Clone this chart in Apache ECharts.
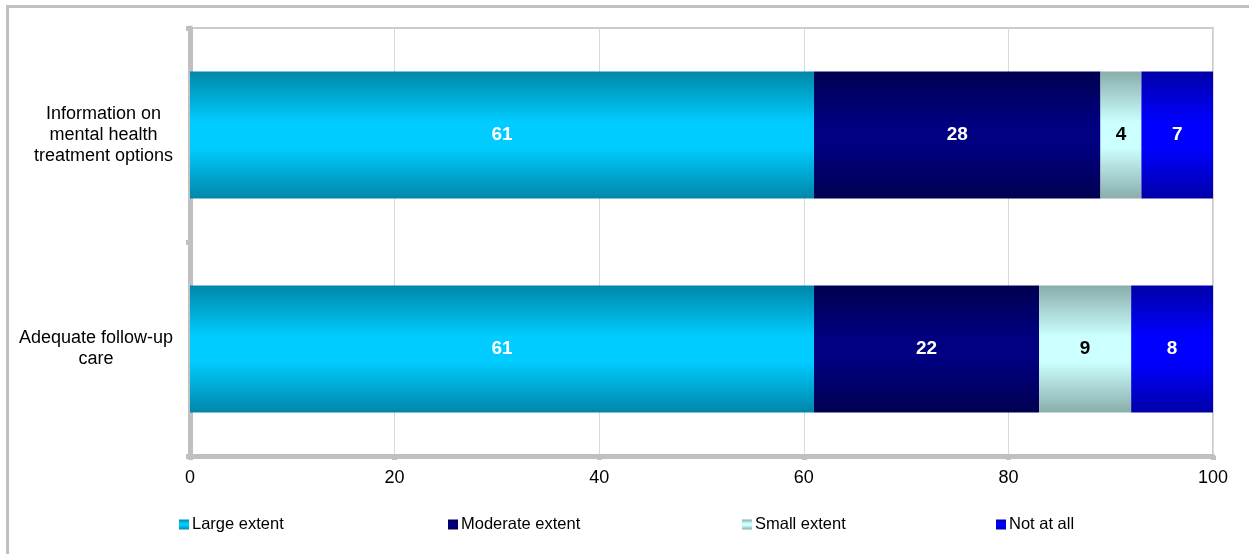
<!DOCTYPE html>
<html>
<head>
<meta charset="utf-8">
<script src="https://cdn.jsdelivr.net/npm/echarts@6/dist/echarts.min.js"></script>
<style>
    html, body { margin: 0; padding: 0; background: #fff; }
    #chart { width: 1249px; height: 554px; }
</style>
</head>
<body>
<div id="chart"></div>
<script>
// categories, top to bottom
var categories = ['Information on\nmental health\ntreatment options', 'Adequate follow-up\ncare'];
var seriesNames = ['Large extent', 'Moderate extent', 'Small extent', 'Not at all'];
var largeExtent = [61, 61];
var moderateExtent = [28, 22];
var smallExtent = [4, 9];
var notAtAll = [7, 8];
var xTicks = [0, 20, 40, 60, 80, 100];

// dark edge / light middle pairs, like the excel shading
var shades = [
    ['#0087a8', '#00ccff'],
    ['#000050', '#000080'],
    ['#89adab', '#ccffff'],
    ['#0000a8', '#0000ff']
];
var labelColors = ['#fff', '#fff', '#000', '#fff'];
var legendLeft = [179, 448, 742, 996];

function shade(pair) {
    return new echarts.graphic.LinearGradient(0, 0, 0, 1, [
        { offset: 0, color: pair[0] },
        { offset: 0.4, color: pair[1] },
        { offset: 0.6, color: pair[1] },
        { offset: 1, color: pair[0] }
    ]);
}

var myChart = echarts.init(document.getElementById('chart'));
var values = [largeExtent, moderateExtent, smallExtent, notAtAll];

var series = values.map(function (data, i) {
    return {
        name: seriesNames[i],
        type: 'bar',
        stack: 'total',
        barWidth: 127,
        data: data,
        itemStyle: { color: shade(shades[i]) },
        label: {
            show: true,
            position: 'inside',
            color: labelColors[i],
            fontFamily: 'Liberation Sans',
            fontWeight: 'bold',
            fontSize: 19
        },
        emphasis: { disabled: true }
    };
});

var legends = seriesNames.map(function (name, i) {
    return {
        data: [name],
        left: legendLeft[i],
        top: 516,
        padding: 0,
        icon: 'rect',
        itemWidth: 10,
        itemHeight: 10,
        itemGap: 0,
        textStyle: {
            fontFamily: 'Liberation Sans',
            fontSize: 16.5,
            color: '#000',
            padding: [0, 0, 0, -2]
        }
    };
});

myChart.setOption({
    animation: false,
    grid: {
        left: 190,
        top: 28,
        right: 36,
        bottom: 98,
        containLabel: false,
        outerBoundsMode: 'none',
        show: true,
        borderColor: '#cccccc',
        borderWidth: 2
    },
    legend: legends,
    xAxis: {
        type: 'value',
        min: 0,
        max: 100,
        interval: 20,
        axisLine: { show: true, lineStyle: { color: '#c0c0c0', width: 5 } },
        axisTick: { show: true, length: 4, lineStyle: { color: '#c0c0c0', width: 5 } },
        splitLine: { show: true, lineStyle: { color: '#d9d9d9', width: 1 } },
        axisLabel: {
            margin: 13,
            color: '#000',
            fontFamily: 'Liberation Sans',
            fontSize: 18,
            formatter: function (v) { return xTicks.indexOf(v) >= 0 ? String(v) : ''; }
        }
    },
    yAxis: {
        type: 'category',
        inverse: true,
        data: [
            { value: categories[0], textStyle: { align: 'center', padding: [0, 0, 0, 15] } },
            { value: categories[1] }
        ],
        axisLine: { show: true, lineStyle: { color: '#c0c0c0', width: 5 } },
        axisTick: { show: true, length: 4, lineStyle: { color: '#c0c0c0', width: 5 } },
        axisLabel: {
            align: 'center',
            margin: 94,
            lineHeight: 21,
            color: '#000',
            fontFamily: 'Liberation Sans',
            fontSize: 18
        }
    },
    graphic: [{
        type: 'rect',
        silent: true,
        shape: { x: 7.5, y: 6.5, width: 1300, height: 600 },
        style: { fill: 'none', stroke: '#c0c0c0', lineWidth: 3 }
    }],
    series: series
});

window.onresize = function () {
    myChart.resize();
};
</script>
</body>
</html>
